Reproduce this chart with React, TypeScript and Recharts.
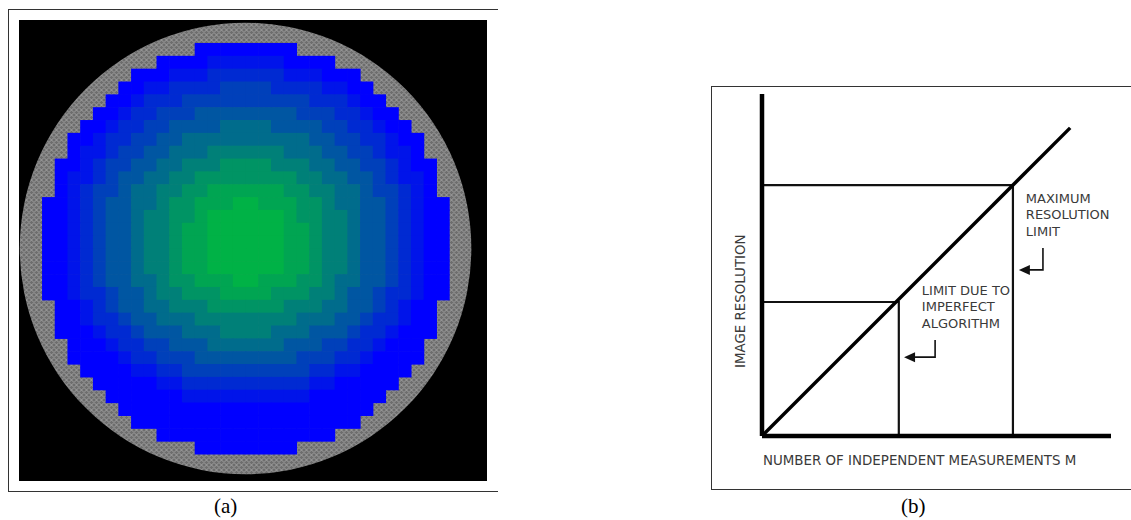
import React from 'react';
import {
  ScatterChart,
  Scatter,
  XAxis,
  YAxis,
  ComposedChart,
  Line,
  Label,
  ReferenceDot,
} from 'recharts';

// ---------- Panel (a): pixel levels (0 = blue … 9 = green, '.' = outside) ----------
const LEVEL_ROWS: string[] = [
  '............0000' + '0000............',
  '.........0000111' + '1110000.........',
  '.......000111222' + '222111000.......',
  '......0011222233' + '3322221100......',
  '.....00122233333' + '33333222100.....',
  '....001223334444' + '444433322100....',
  '...0012233444455' + '5544443322100...',
  '..00122334455555' + '55555443322100..',
  '..01123344555666' + '66655544332110..',
  '.001233445566677' + '776665544332100.',
  '.011234455667777' + '777766554432110.',
  '.012334556677888' + '888776655433210.',
  '0012344556778889' + '9888776554432100',
  '0012344566778999' + '9998776654432100',
  '0012344566788999' + '9998876654432100',
  '0012344566788999' + '9998876654432100',
  '0012344566788999' + '9998876654432100',
  '0012344566788999' + '9998876654432100',
  '0012344556778889' + '9888776554432100',
  '0012234456677788' + '8877766544322100',
  '.001234455666777' + '777666554432100.',
  '.001223445556666' + '666655544322100.',
  '.000122344455566' + '665554443221000.',
  '..00012233444555' + '55544433221000..',
  '..00001223334444' + '44443332210000..',
  '...0000112233333' + '3333322110000...',
  '....000001122222' + '222221100000....',
  '.....00000011111' + '11111000000.....',
  '......0000000000' + '0000000000......',
  '.......000000000' + '000000000.......',
  '.........0000000' + '0000000.........',
  '............0000' + '0000............',
];
const LEVEL_COLORS = [
  '#0000ff', '#0014ea', '#002ad2', '#0040ba', '#0056a2',
  '#006c8c', '#008078', '#009464', '#00a552', '#00b246',
];
const RING_CENTER = [{ x: 16, y: 16 }];
const RING_RADIUS_UNITS = 17.75;

// ---------- Panel (b) ----------
const diagonal = [
  { m: 0, r: 0 },
  { m: 8.83, r: 8.83 },
];
const maxLimitGuide = [
  { m: 0, r: 7.19 },
  { m: 7.19, r: 7.19 },
  { m: 7.19, r: 0 },
];
const algLimitGuide = [
  { m: 0, r: 3.84 },
  { m: 3.92, r: 3.84 },
  { m: 3.92, r: 0 },
];
const maxArrowPath = [
  { m: 8.05, r: 5.39 },
  { m: 8.05, r: 4.76 },
  { m: 7.6, r: 4.76 },
];
const maxArrowTip = [{ m: 7.36, r: 4.76 }];
const algArrowPath = [
  { m: 4.96, r: 2.75 },
  { m: 4.96, r: 2.26 },
  { m: 4.3, r: 2.26 },
];
const algArrowTip = [{ m: 4.07, r: 2.26 }];
const maxLabelLines = ['MAXIMUM', 'RESOLUTION', 'LIMIT'];
const maxLabelY = [6.82, 6.36, 5.87];
const maxLabelX = 7.56;
const algLabelLines = ['LIMIT DUE TO', 'IMPERFECT', 'ALGORITHM'];
const algLabelY = [4.18, 3.7, 3.24];
const algLabelX = 4.58;

const X_LABEL = 'NUMBER OF INDEPENDENT MEASUREMENTS M';
const Y_LABEL = 'IMAGE RESOLUTION';

// ---------- layout ----------
const A_W = 468;
const A_H = 461;
const X_MIN = -1.81;
const X_MAX = 34.98;
const Y_MIN = -1.79;
const Y_MAX = 34.11;
const CELL_W = A_W / (X_MAX - X_MIN);
const CELL_H = A_H / (Y_MAX - Y_MIN);

const cells: { x: number; y: number; level: number }[] = [];
LEVEL_ROWS.forEach((row, r) => {
  row.split('').forEach((ch, c) => {
    if (ch !== '.') cells.push({ x: c + 0.5, y: r + 0.5, level: Number(ch) });
  });
});

const CellShape = (props: any) => {
  const { cx, cy, payload } = props;
  return (
    <rect
      x={cx - CELL_W / 2}
      y={cy - CELL_H / 2}
      width={CELL_W + 0.6}
      height={CELL_H + 0.6}
      fill={LEVEL_COLORS[payload.level]}
    />
  );
};

const RingShape = (props: any) => {
  const { cx, cy } = props;
  return <circle cx={cx} cy={cy} r={RING_RADIUS_UNITS * CELL_W} fill="url(#ringTexture)" />;
};

const ArrowHead = (props: any) => {
  const { cx, cy } = props;
  return (
    <polygon
      points={`${cx},${cy} ${cx + 11},${cy - 5} ${cx + 11},${cy + 5}`}
      fill="#111"
    />
  );
};

const annFont = {
  fill: '#3a3a3a',
  fontSize: 13,
  fontFamily: 'DejaVu Sans',
};

const YLabelContent = (props: any) => {
  const { x, y, height } = props.viewBox;
  const tx = x + 8;
  const ty = y + height - 68;
  return (
    <text
      x={tx}
      y={ty}
      transform={`rotate(-90 ${tx} ${ty})`}
      dominantBaseline="central"
      fontSize={13.4}
      fontFamily="DejaVu Sans"
      fill="#3a3a3a"
    >
      {Y_LABEL}
    </text>
  );
};

export default function App() {
  return (
    <div
      style={{
        position: 'absolute',
        left: 0,
        top: 0,
        width: 1131,
        height: 520,
        background: '#fff',
        overflow: 'hidden',
      }}
    >
      {/* frame (a) */}
      <div
        style={{
          position: 'absolute',
          left: 8,
          top: 9,
          width: 490,
          height: 483,
          borderTop: '1px solid #333',
          borderLeft: '1px solid #333',
          borderBottom: '1px solid #333',
          boxSizing: 'border-box',
        }}
      />
      <div style={{ position: 'absolute', left: 19, top: 20, width: A_W, height: A_H, background: '#000' }}>
        <ScatterChart width={A_W} height={A_H} margin={{ top: 0, right: 0, bottom: 0, left: 0 }}>
          <defs>
            <pattern id="ringTexture" patternUnits="userSpaceOnUse" width="5" height="5">
              <rect x="0" y="0" width="5" height="5" fill="#6d6d6d" />
              <path d="M0 2.5 L2.5 0 L5 2.5 L2.5 5 Z" fill="none" stroke="#ababab" strokeWidth="0.8" />
            </pattern>
          </defs>
          <XAxis type="number" dataKey="x" domain={[X_MIN, X_MAX]} hide allowDataOverflow />
          <YAxis type="number" dataKey="y" domain={[Y_MIN, Y_MAX]} reversed hide allowDataOverflow />
          <Scatter data={RING_CENTER} shape={RingShape} isAnimationActive={false} />
          <Scatter data={cells} shape={CellShape} isAnimationActive={false} />
        </ScatterChart>
      </div>
      <div
        style={{
          position: 'absolute',
          left: 214,
          top: 494,
          fontFamily: 'Liberation Serif',
          fontSize: 21,
          lineHeight: '24px',
          color: '#000',
        }}
      >
        (a)
      </div>

      {/* frame (b) */}
      <div
        style={{
          position: 'absolute',
          left: 711,
          top: 86,
          width: 440,
          height: 404,
          borderTop: '1px solid #333',
          borderLeft: '1px solid #333',
          borderBottom: '1px solid #333',
          boxSizing: 'border-box',
        }}
      />
      <div style={{ position: 'absolute', left: 711, top: 86 }}>
        <ComposedChart width={420} height={403} margin={{ top: 8, right: 20, bottom: 5, left: 21 }}>
          <XAxis
            type="number"
            dataKey="m"
            domain={[0, 10]}
            allowDataOverflow
            tick={false}
            tickLine={false}
            height={48}
            axisLine={{ stroke: '#000', strokeWidth: 4.5 }}
          >
            <Label value={X_LABEL} position="insideLeft" offset={1} {...annFont} fontSize={13.4} />
          </XAxis>
          <YAxis
            type="number"
            dataKey="r"
            domain={[0, 9.8]}
            allowDataOverflow
            tick={false}
            tickLine={false}
            width={30}
            axisLine={{ stroke: '#000', strokeWidth: 4.5 }}
          >
            <Label content={YLabelContent} />
          </YAxis>
          <Line data={maxLimitGuide} dataKey="r" type="linear" stroke="#111" strokeWidth={2.2} dot={false} isAnimationActive={false} />
          <Line data={algLimitGuide} dataKey="r" type="linear" stroke="#111" strokeWidth={2.2} dot={false} isAnimationActive={false} />
          <Line data={diagonal} dataKey="r" type="linear" stroke="#000" strokeWidth={3.4} dot={false} isAnimationActive={false} />
          <Line data={maxArrowPath} dataKey="r" type="linear" stroke="#111" strokeWidth={1.6} dot={false} isAnimationActive={false} />
          <Line data={algArrowPath} dataKey="r" type="linear" stroke="#111" strokeWidth={1.6} dot={false} isAnimationActive={false} />
          <Scatter data={maxArrowTip} dataKey="r" shape={ArrowHead} isAnimationActive={false} />
          <Scatter data={algArrowTip} dataKey="r" shape={ArrowHead} isAnimationActive={false} />
          {maxLabelLines.map((t, i) => (
            <ReferenceDot
              key={'max' + i}
              x={maxLabelX}
              y={maxLabelY[i]}
              r={0}
              stroke="none"
              label={{ value: t, position: 'right', offset: 0, ...annFont }}
            />
          ))}
          {algLabelLines.map((t, i) => (
            <ReferenceDot
              key={'alg' + i}
              x={algLabelX}
              y={algLabelY[i]}
              r={0}
              stroke="none"
              label={{ value: t, position: 'right', offset: 0, ...annFont }}
            />
          ))}
        </ComposedChart>
      </div>
      <div
        style={{
          position: 'absolute',
          left: 901,
          top: 494,
          fontFamily: 'Liberation Serif',
          fontSize: 21,
          lineHeight: '24px',
          color: '#000',
        }}
      >
        (b)
      </div>
    </div>
  );
}
